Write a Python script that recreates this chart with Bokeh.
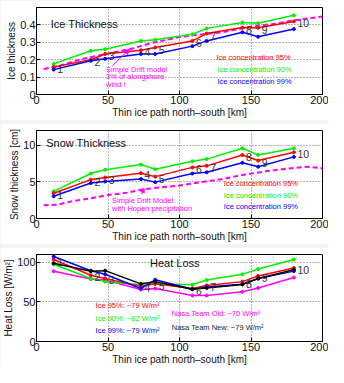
from bokeh.plotting import figure
from bokeh.layouts import column
from bokeh.models import Label, Arrow, NormalHead, FixedTicker, Range1d
from bokeh.embed import file_html
from bokeh.resources import INLINE
from bokeh.core.properties import value

FONT = "Liberation Sans"

# ---------------- data ----------------
stations = ["1", "2", "3", "4", "5", "6", "7", "8", "9", "10"]
station_km = [12, 38, 48, 73, 83, 109, 119, 144, 155, 180]

x_ticks = [0, 50, 100, 150, 200]
x_tick_labels = ["0", "50", "100", "150", "200"]

# Ice thickness [m]
ice_95 = [0.158, 0.200, 0.233, 0.254, 0.270, 0.308, 0.350, 0.385, 0.383, 0.420]
ice_90 = [0.176, 0.251, 0.260, 0.308, 0.314, 0.346, 0.380, 0.414, 0.410, 0.455]
ice_99 = [0.143, 0.194, 0.205, 0.233, 0.233, 0.278, 0.308, 0.358, 0.332, 0.376]
drift_km = [5, 15, 30, 50, 65, 80, 100, 115, 130, 150, 165, 180, 200]
drift_ice = [0.147, 0.162, 0.200, 0.236, 0.260, 0.295, 0.330, 0.345, 0.358, 0.390, 0.405, 0.426, 0.448]
ice_yticks = [0, 0.1, 0.2, 0.3, 0.4]
ice_ytick_labels = ["0", "0.1", "0.2", "0.3", "0.4"]

# Snow thickness [cm]
snow_95 = [3.45, 5.30, 5.59, 6.18, 5.71, 6.97, 7.18, 8.66, 7.90, 9.03]
snow_90 = [3.70, 6.13, 6.64, 7.35, 6.72, 7.80, 8.10, 9.58, 8.66, 9.58]
snow_99 = [3.03, 4.83, 5.04, 5.38, 4.96, 6.13, 6.30, 7.60, 7.06, 8.40]
drift_snow_km = [5, 15, 25, 38, 50, 63, 75, 90, 100, 115, 130, 145, 160, 175, 190, 200]
drift_snow = [1.80, 1.90, 2.35, 2.77, 3.20, 3.50, 4.00, 4.30, 4.50, 4.96, 5.38, 5.97, 6.43, 6.80, 7.06, 6.85]
snow_yticks = [0, 5, 10]
snow_ytick_labels = ["0", "5", "10"]

# Heat loss [W/m2]
heat_95 = [103.6, 83.7, 79.7, 69.7, 72.9, 66.9, 70.9, 75.7, 82.9, 92.8]
heat_90 = [97.6, 79.7, 75.7, 71.7, 72.9, 71.7, 77.7, 84.9, 91.6, 103.6]
heat_99 = [107.5, 89.5, 85.0, 67.0, 78.0, 66.0, 69.0, 72.5, 79.5, 89.0]
heat_old = [88.8, 78.9, 77.7, 65.7, 66.9, 58.2, 58.2, 62.9, 67.7, 80.9]
heat_new = [98.8, 88.8, 89.6, 72.9, 75.7, 66.1, 67.7, 72.1, 79.7, 90.8]
heat_yticks = [0, 50, 100]
heat_ytick_labels = ["0", "50", "100"]

RED, GREEN, BLUE, MAG, BLK = "#ff0000", "#00f000", "#0000ff", "#ff00ff", "#000000"


def make_fig(height, left, yr, yticks, ylabels, ylabel):
    p = figure(width=328, height=height, x_range=Range1d(0, 200), y_range=Range1d(*yr),
               output_backend="svg", toolbar_location=None,
               min_border_left=left, min_border_right=6, min_border_top=7, min_border_bottom=10)
    p.background_fill_color = "white"
    p.border_fill_color = "white"
    p.outline_line_color = "black"
    p.outline_line_width = 1
    p.outline_line_alpha = 1
    p.xaxis.ticker = FixedTicker(ticks=x_ticks)
    p.xaxis.major_label_overrides = dict(zip(x_ticks, x_tick_labels))
    p.yaxis.ticker = FixedTicker(ticks=yticks)
    p.yaxis.major_label_overrides = dict(zip(yticks, ylabels))
    p.xaxis.axis_label = "Thin ice path north\u2013south [km]"
    p.yaxis.axis_label = ylabel
    for ax in p.axis:
        ax.axis_line_color = "black"
        ax.axis_line_width = 1
        ax.major_tick_in = 4
        ax.major_tick_out = 0
        ax.minor_tick_line_color = None
        ax.major_tick_line_color = "black"
        ax.major_label_text_font = FONT
        ax.major_label_text_font_size = "11px"
        ax.major_label_text_color = "#111111"
        ax.major_label_standoff = 1
        ax.axis_label_text_font = FONT
        ax.axis_label_text_font_size = "10px"
        ax.axis_label_text_font_style = "normal"
        ax.axis_label_text_color = "#111111"
        ax.axis_label_standoff = 0
    p.grid.grid_line_color = "#666666"
    p.grid.grid_line_dash = "1 2"
    p.grid.grid_line_width = 1
    return p


def add_lines(p, xs, series):
    for ys, col in series:
        p.line(xs, ys, line_color=col, line_width=1.5)
        p.scatter(xs, ys, size=3, color=col)


def add_numbers(p, ref):
    p.text(x=[k + 2.5 for k in station_km], y=ref, text=stations,
           text_font=value(FONT), text_font_size="10.5px", text_color="#333333",
           text_align="left", text_baseline="middle", y_offset=2)


def lab(p, x, y, text, color, size="7.5px"):
    p.add_layout(Label(x=x, y=y, text=text, text_color=color, text_font=FONT,
                       text_font_size=size, text_baseline="middle", text_align="left"))


# ---------------- panel 1 ----------------
p1 = make_fig(120, 27, (0, 0.5), ice_yticks, ice_ytick_labels, "Ice thickness")
p1.line(drift_km, drift_ice, line_color=MAG, line_width=2, line_dash="5 3")
add_lines(p1, station_km, [(ice_90, GREEN), (ice_95, RED), (ice_99, BLUE)])
add_numbers(p1, ice_95)
lab(p1, 9.9, 0.403, "Ice Thickness", "#111111", "11px")
lab(p1, 48.6, 0.143, "Simple Drift model", MAG)
lab(p1, 48.6, 0.104, "3%  of alongshore", MAG)
lab(p1, 48.6, 0.057, "wind !", MAG)
p1.add_layout(Arrow(end=NormalHead(size=5, fill_color=MAG, line_color=MAG),
                    x_start=53, y_start=0.165, x_end=65, y_end=0.26,
                    line_color=MAG, line_width=1))
lab(p1, 125.8, 0.211, "Ice concentration 95%", RED)
lab(p1, 126.5, 0.143, "Ice concentration 90%", GREEN)
lab(p1, 126.5, 0.077, "Ice concentration 99%", BLUE)

# ---------------- panel 2 ----------------
p2 = make_fig(121, 24, (0, 12), snow_yticks, snow_ytick_labels, "Snow thickness [cm]")
p2.line(drift_snow_km, drift_snow, line_color=MAG, line_width=2, line_dash="5 3")
add_lines(p2, station_km, [(snow_90, GREEN), (snow_95, RED), (snow_99, BLUE)])
add_numbers(p2, snow_95)
lab(p2, 6.8, 10.3, "Snow Thickness", "#111111", "11px")
lab(p2, 52.8, 2.52, "Simple Drift Model", MAG)
lab(p2, 52.8, 1.34, "with Hopen precipitation", MAG)
p2.add_layout(Arrow(end=NormalHead(size=4, fill_color=MAG, line_color=MAG),
                    x_start=73.4, y_start=3.3, x_end=75.2, y_end=4.1,
                    line_color=MAG, line_width=1))
lab(p2, 131, 4.75, "Ice concentration 95%", RED)
lab(p2, 131, 3.15, "Ice concentration 90%", GREEN)
lab(p2, 131, 1.68, "Ice concentration 99%", BLUE)

# ---------------- panel 3 ----------------
p3 = make_fig(120, 31, (0, 110), heat_yticks, heat_ytick_labels, "Heat Loss [W/m\u00b2]")
add_lines(p3, station_km, [(heat_old, MAG), (heat_90, GREEN), (heat_95, RED),
                           (heat_99, BLUE), (heat_new, BLK)])
add_numbers(p3, heat_95)
lab(p3, 79.4, 99.6, "Heat Loss", "#111111", "11px")
lab(p3, 41.3, 45.8, "Ice 95%: \u221279 W/m\u00b2", RED)
lab(p3, 41.3, 29, "Ice 90%: \u221282 W/m\u00b2", GREEN)
lab(p3, 41.3, 14, "Ice 99%: \u221279 W/m\u00b2", BLUE)
lab(p3, 94.6, 35, "Nasa Team Old: \u221270 W/m\u00b2", MAG)
lab(p3, 94.6, 18, "Nasa Team New: \u221279 W/m\u00b2", "#222222")

layout = column(p1, p2, p3, spacing=3, styles={"background-color": "#edf7ec"})

open("out.html", "w").write(file_html(layout, INLINE))
